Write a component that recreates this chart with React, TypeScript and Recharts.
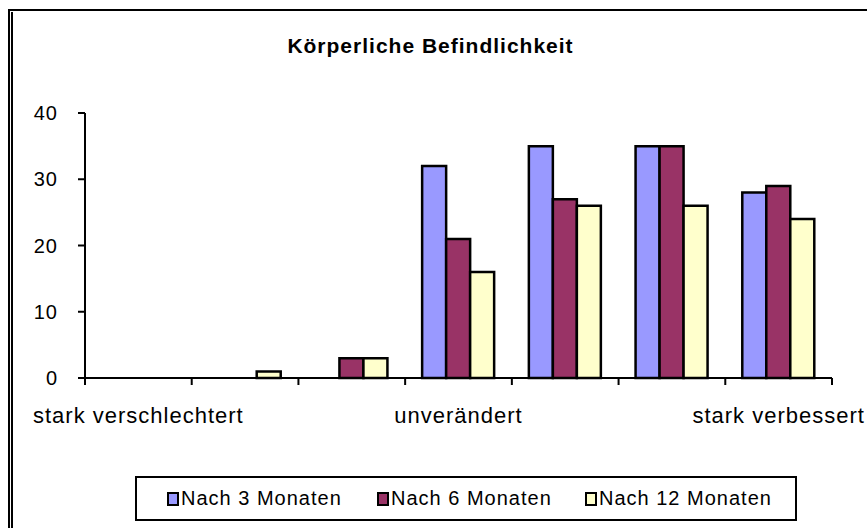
import React from "react";
import { BarChart, Bar, XAxis, YAxis, Legend } from "recharts";

// 7-step scale, only the ends and the middle are labelled
const categories = [
  "stark verschlechtert",
  "",
  "",
  "unverändert",
  "",
  "",
  "stark verbessert",
];
const nach3 = [0, 0, 0, 32, 35, 35, 28];
const nach6 = [0, 0, 3, 21, 27, 35, 29];
const nach12 = [0, 1, 3, 16, 26, 26, 24];
const yTicks = [0, 10, 20, 30, 40];

const seriesNames = ["Nach 3 Monaten", "Nach 6 Monaten", "Nach 12 Monaten"];
const colors = ["#9999FF", "#993366", "#FFFFCC"];

const data = categories.map((c, i) => ({
  cat: c,
  n3: nach3[i],
  n6: nach6[i],
  n12: nach12[i],
}));

const FONT = "'Liberation Sans', Arial, sans-serif";

const CatTick = (props: any) => {
  const { x, y, payload, index, visibleTicksCount } = props;
  const half = payload && payload.offset ? payload.offset : (832 - 85) / 14;
  const last = index === (visibleTicksCount ?? categories.length) - 1;
  return (
    <g>
      <line x1={x - half} y1={y} x2={x - half} y2={y + 7} stroke="#000" strokeWidth={2} />
      {last && (
        <line x1={x + half} y1={y} x2={x + half} y2={y + 7} stroke="#000" strokeWidth={2} />
      )}
      <text
        x={x}
        y={y + 37}
        textAnchor="middle"
        dominantBaseline="central"
        fontFamily={FONT}
        fontSize={22}
        letterSpacing={1}
        fill="#000"
      >
        {payload.value}
      </text>
    </g>
  );
};

const legendLeft = [32, 242, 450];

const LegendBox = () => (
  <div
    style={{
      position: "relative",
      boxSizing: "border-box",
      width: 662,
      height: 45,
      border: "2px solid #000",
      background: "#fff",
      fontFamily: FONT,
      fontSize: 20,
      color: "#000",
    }}
  >
    {seriesNames.map((n, i) => (
      <div
        key={n}
        style={{
          position: "absolute",
          left: legendLeft[i] - 2,
          top: 0,
          height: 41,
          display: "flex",
          alignItems: "center",
          whiteSpace: "nowrap",
        }}
      >
        <span
          style={{
            display: "inline-block",
            width: 8,
            height: 10,
            background: colors[i],
            border: "2px solid #000",
            marginRight: 2,
          }}
        />
        <span style={{ letterSpacing: 1 }}>{n}</span>
      </div>
    ))}
  </div>
);

export default function App() {
  return (
    <div
      style={{
        position: "absolute",
        left: 0,
        top: 0,
        width: 867,
        height: 528,
        background: "#fff",
        overflow: "hidden",
      }}
    >
      {/* frame: top line and doubled left line */}
      <div style={{ position: "absolute", left: 8, top: 9, width: 870, height: 2, background: "#000" }} />
      <div style={{ position: "absolute", left: 8, top: 9, width: 2, height: 530, background: "#000" }} />
      <div style={{ position: "absolute", left: 11, top: 12, width: 2, height: 530, background: "#000" }} />
      <div
        style={{
          position: "absolute",
          left: 0,
          width: 867,
          top: 34,
          textAlign: "center",
          fontFamily: FONT,
          fontWeight: "bold",
          fontSize: 21,
          letterSpacing: 1,
          color: "#000",
        }}
      >
        <span style={{ position: "relative", left: -3 }}>Körperliche Befindlichkeit</span>
      </div>
      <BarChart
        width={867}
        height={528}
        data={data}
        margin={{ top: 113, right: 35, left: 0, bottom: 90 }}
        barCategoryGap={17}
        barGap={0}
        style={{ position: "absolute", left: 0, top: 0 }}
      >
        <XAxis
          dataKey="cat"
          interval={0}
          height={60}
          tickLine={false}
          tickSize={0}
          tickMargin={0}
          axisLine={{ stroke: "#000", strokeWidth: 2 }}
          tick={<CatTick />}
        />
        <YAxis
          width={85}
          domain={[0, 40]}
          ticks={yTicks}
          interval={0}
          tickSize={7}
          tickMargin={20}
          axisLine={{ stroke: "#000", strokeWidth: 2 }}
          tickLine={{ stroke: "#000", strokeWidth: 2 }}
          tick={{ fill: "#000", fontSize: 20, fontFamily: FONT, letterSpacing: 1 }}
        />
        <Legend
          layout="horizontal"
          verticalAlign="middle"
          align="center"
          content={<LegendBox />}
          wrapperStyle={{ position: "absolute", left: 135, top: 476, width: 662, height: 45 }}
        />
        <Bar dataKey="n3" name={seriesNames[0]} fill={colors[0]} stroke="#000" strokeWidth={2.5} isAnimationActive={false} />
        <Bar dataKey="n6" name={seriesNames[1]} fill={colors[1]} stroke="#000" strokeWidth={2.5} isAnimationActive={false} />
        <Bar dataKey="n12" name={seriesNames[2]} fill={colors[2]} stroke="#000" strokeWidth={2.5} isAnimationActive={false} />
      </BarChart>
    </div>
  );
}
